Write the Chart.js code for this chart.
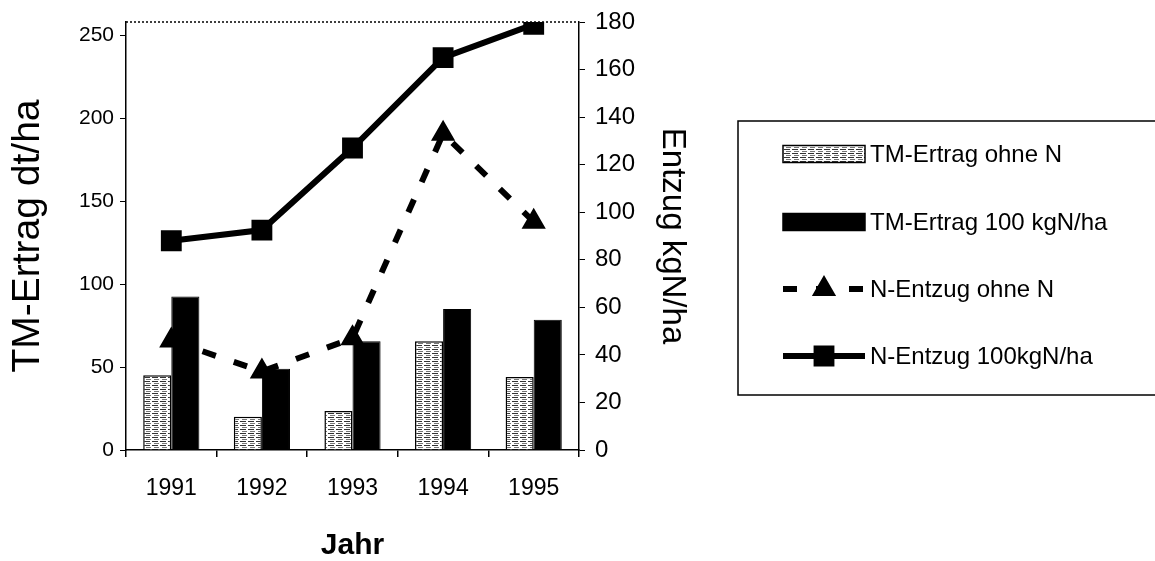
<!DOCTYPE html>
<html><head><meta charset="utf-8">
<script src="https://cdn.jsdelivr.net/npm/chart.js@4.4.1/dist/chart.umd.min.js"></script>
<style>html,body{margin:0;padding:0;background:#fff;}canvas{display:block}</style>
</head><body>
<canvas id="c" width="1155" height="561"></canvas>
<script>
// ---- data ----
const years = ['1991', '1992', '1993', '1994', '1995'];
const tmOhneN = [45, 20, 23.5, 65.5, 44];          // TM-Ertrag dt/ha, left axis
const tm100 = [92.5, 49, 65.5, 85, 78.5];          // TM-Ertrag dt/ha, left axis
const nEntzugOhneN = [46, 33, 47, 133, 96];        // kgN/ha, right axis
const nEntzug100 = [88, 92.5, 127, 165, 179];      // kgN/ha, right axis
const seriesLabels = ['TM-Ertrag ohne N', 'TM-Ertrag 100 kgN/ha', 'N-Entzug ohne N', 'N-Entzug 100kgN/ha'];
const leftTicks = [0, 50, 100, 150, 200, 250];
const rightTicks = [0, 20, 40, 60, 80, 100, 120, 140, 160, 180];
const leftTitle = 'TM-Ertrag dt/ha';
const rightTitle = 'Entzug kgN/ha';
const xTitle = 'Jahr';

const FONT = "'Liberation Sans', Arial, sans-serif";
const canvas = document.getElementById('c');
const ctx = canvas.getContext('2d');

function makeHatch() {
  const p = document.createElement('canvas');
  p.width = 8; p.height = 4;
  const g = p.getContext('2d');
  g.fillStyle = '#fff'; g.fillRect(0, 0, 8, 4);
  g.fillStyle = '#333';
  g.fillRect(0, 1, 6, 1);
  g.fillStyle = '#777';
  g.fillRect(2, 3, 5, 1);
  return ctx.createPattern(p, 'repeat');
}
const hatch = makeHatch();

const frameAndLegend = {
  id: 'frameAndLegend',
  beforeDatasetsDraw(chart) {
    const a = chart.chartArea, c = chart.ctx;
    c.save();
    c.strokeStyle = '#000';
    c.lineWidth = 1.5;
    c.setLineDash([2, 2]);
    c.beginPath();
    c.moveTo(a.left, a.top);
    c.lineTo(a.right, a.top);
    c.stroke();
    c.restore();
  },
  afterDraw(chart) {
    const c = chart.ctx;
    c.save();
    c.strokeStyle = '#000';
    c.lineWidth = 1.5;
    c.strokeRect(738, 121, 440, 274);
    const rows = [154, 222, 289, 356];
    const sx = 783, ex = 865, tx = 870;
    const ds = chart.data.datasets;
    [0, 1, 2, 3].forEach((di, i) => {
      const d = ds[di];
      const y = rows[i];
      if (d.type === 'bar') {
        c.fillStyle = d.backgroundColor;
        c.fillRect(sx, y - 8.5, ex - sx, 17);
        c.lineWidth = 1.5;
        c.strokeStyle = '#000';
        c.strokeRect(sx, y - 8.5, ex - sx, 17);
      } else {
        c.strokeStyle = '#000';
        c.lineWidth = d.borderWidth;
        c.setLineDash(d.borderDash || []);
        c.beginPath();
        c.moveTo(sx, y);
        c.lineTo(ex, y);
        c.stroke();
        c.setLineDash([]);
        c.fillStyle = '#000';
        Chart.helpers.drawPoint(c, {pointStyle: d.pointStyle, radius: d.pointRadius, borderWidth: 1, rotation: 0}, (sx + ex) / 2, y);
      }
      c.fillStyle = '#000';
      c.font = '24px ' + FONT;
      c.textBaseline = 'middle';
      c.textAlign = 'left';
      c.fillText(d.label, tx, y + 1);
    });
    c.restore();
  }
};

Chart.defaults.font.family = FONT;
Chart.defaults.color = '#000';

new Chart(ctx, {
  type: 'bar',
  data: {
    labels: years,
    datasets: [
      {type: 'bar', label: seriesLabels[0], data: tmOhneN, yAxisID: 'y', backgroundColor: hatch,
       borderColor: '#000', borderWidth: 1.5, order: 2, barPercentage: 1, categoryPercentage: 0.62},
      {type: 'bar', label: seriesLabels[1], data: tm100, yAxisID: 'y', backgroundColor: '#000',
       borderColor: '#000', borderWidth: 1, order: 3, barPercentage: 1, categoryPercentage: 0.62},
      {type: 'line', label: seriesLabels[2], data: nEntzugOhneN, yAxisID: 'y2', borderColor: '#000',
       backgroundColor: '#000', borderWidth: 6, borderDash: [14, 19], pointStyle: 'triangle',
       pointRadius: 8, pointBackgroundColor: '#000', pointBorderColor: '#000', order: 1, tension: 0},
      {type: 'line', label: seriesLabels[3], data: nEntzug100, yAxisID: 'y2', borderColor: '#000',
       backgroundColor: '#000', borderWidth: 6, pointStyle: 'rect', pointRadius: 10.5,
       pointBackgroundColor: '#000', pointBorderColor: '#000', order: 0, tension: 0}
    ]
  },
  options: {
    responsive: false,
    animation: false,
    layout: {padding: {left: 0, right: 446, top: 22, bottom: 0}},
    plugins: {legend: {display: false}, tooltip: {enabled: false}},
    scales: {
      x: {
        offset: true,
        grid: {display: true, drawOnChartArea: false, offset: true, tickLength: 7, color: '#000', lineWidth: 1.5},
        border: {display: true, color: '#000', width: 1.5},
        ticks: {font: {size: 23}, padding: 18},
        title: {display: true, text: xTitle, font: {size: 30, weight: 'bold', lineHeight: 1}, padding: {top: 30, bottom: 0}},
        afterFit(s) { s.height = 111; }
      },
      y: {
        position: 'left', min: 0, max: 258,
        grid: {display: true, drawOnChartArea: false, tickLength: 6, color: '#000', lineWidth: 1},
        border: {display: true, color: '#000', width: 1.5},
        ticks: {font: {size: 21, lineHeight: 1}, padding: 6, includeBounds: false},
        afterBuildTicks(s) { s.ticks = leftTicks.map(v => ({value: v})); },
        title: {display: true, text: leftTitle, font: {size: 39}, padding: 5},
        afterFit(s) { s.width = 126; }
      },
      y2: {
        position: 'right', min: 0, max: 180,
        grid: {display: true, drawOnChartArea: false, tickLength: 6, color: '#000', lineWidth: 1},
        border: {display: true, color: '#000', width: 1.5},
        ticks: {font: {size: 24, lineHeight: 1}, padding: 10},
        afterBuildTicks(s) { s.ticks = rightTicks.map(v => ({value: v})); },
        title: {display: true, text: rightTitle, font: {size: 33}, padding: 17},
        afterFit(s) { s.width = 130; }
      }
    }
  },
  plugins: [frameAndLegend]
});
</script>
</body></html>
